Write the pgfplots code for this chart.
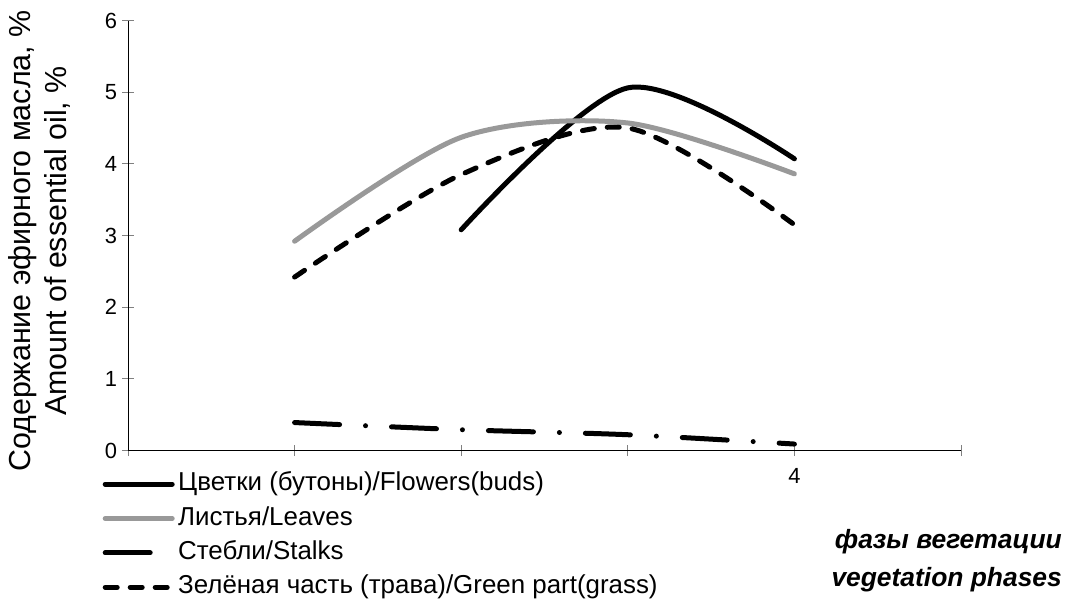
\documentclass[border=0pt]{standalone}
\usepackage{pgfplots}
\pgfplotsset{compat=1.18}
\usepackage{fontspec}
\setmainfont{Liberation Sans}
\definecolor{leafgray}{rgb}{0.60,0.60,0.60}
\newcommand{\tickfont}{\fontsize{22}{26}\selectfont}
\begin{document}
\begin{tikzpicture}
\useasboundingbox (-128bp,-163.5bp) rectangle (939bp,450.5bp);
\begin{axis}[
  at={(0,0)}, anchor=origin,
  scale only axis, width=833bp, height=430bp,
  xmin=0, xmax=5, ymin=0, ymax=6,
  axis x line=bottom, axis y line=left,
  axis line style={-, black, line width=0.8bp},
  xtick={0,1,2,3,4,5}, xticklabels={,,,,{\tickfont 4},},
  ytick={0,1,2,3,4,5,6},
  yticklabel={\tickfont\pgfmathprintnumber{\tick}},
  tick align=center, major tick length=11bp,
  tick style={gray, line width=0.8bp},
  /pgf/number format/assume math mode=true,
  yticklabel style={xshift=-2bp},
  xticklabel style={yshift=-9bp},
  ylabel={Содержание эфирного масла, \%\\Amount of essential oil, \%},
  ylabel style={align=center, font=\fontsize{30.5}{37}\selectfont, at={(axis description cs:-0.0684,0.487)}, anchor=south, inner sep=0pt},
  xlabel={фазы вегетации\\vegetation phases},
  xlabel style={align=right, font=\fontsize{26.5}{38}\selectfont\bfseries\itshape, at={(axis description cs:1.1213,-0.183)}, anchor=north east, inner sep=0pt},
  legend cell align=left,
  legend image code/.code={\draw[#1] (0bp,0bp) -- (67bp,0bp);},
  legend style={at={(axis description cs:-0.0306,-0.0486)}, anchor=north west, draw=none, fill=none,
     inner sep=0pt, font=\fontsize{26}{30}\selectfont, row sep=9.4bp,
     nodes={inner sep=0pt, text height=19bp, text depth=6bp},
     /tikz/every odd column/.append style={column sep=3.5bp}},
]
\addplot[black, line width=5bp, smooth, line cap=round] coordinates {(2,3.08) (3,5.06) (4,4.07)};
\addlegendentry{Цветки (бутоны)/Flowers(buds)}
\addplot[leafgray, line width=5bp, smooth, line cap=round] coordinates {(1,2.92) (2,4.37) (3,4.57) (4,3.86)};
\addlegendentry{Листья/Leaves}
\addplot[black, line width=5bp, smooth, line cap=round, dash pattern=on 45bp off 26bp on 0bp off 26bp] coordinates {(1,0.39) (2,0.29) (3,0.22) (4,0.09)};
\addlegendentry{Стебли/Stalks}
\addplot[black, line width=5bp, smooth, line cap=round, dash pattern=on 12bp off 13bp] coordinates {(1,2.42) (2,3.85) (3,4.50) (4,3.15)};
\addlegendentry{Зелёная часть (трава)/Green part(grass)}
\end{axis}
\end{tikzpicture}
\end{document}
